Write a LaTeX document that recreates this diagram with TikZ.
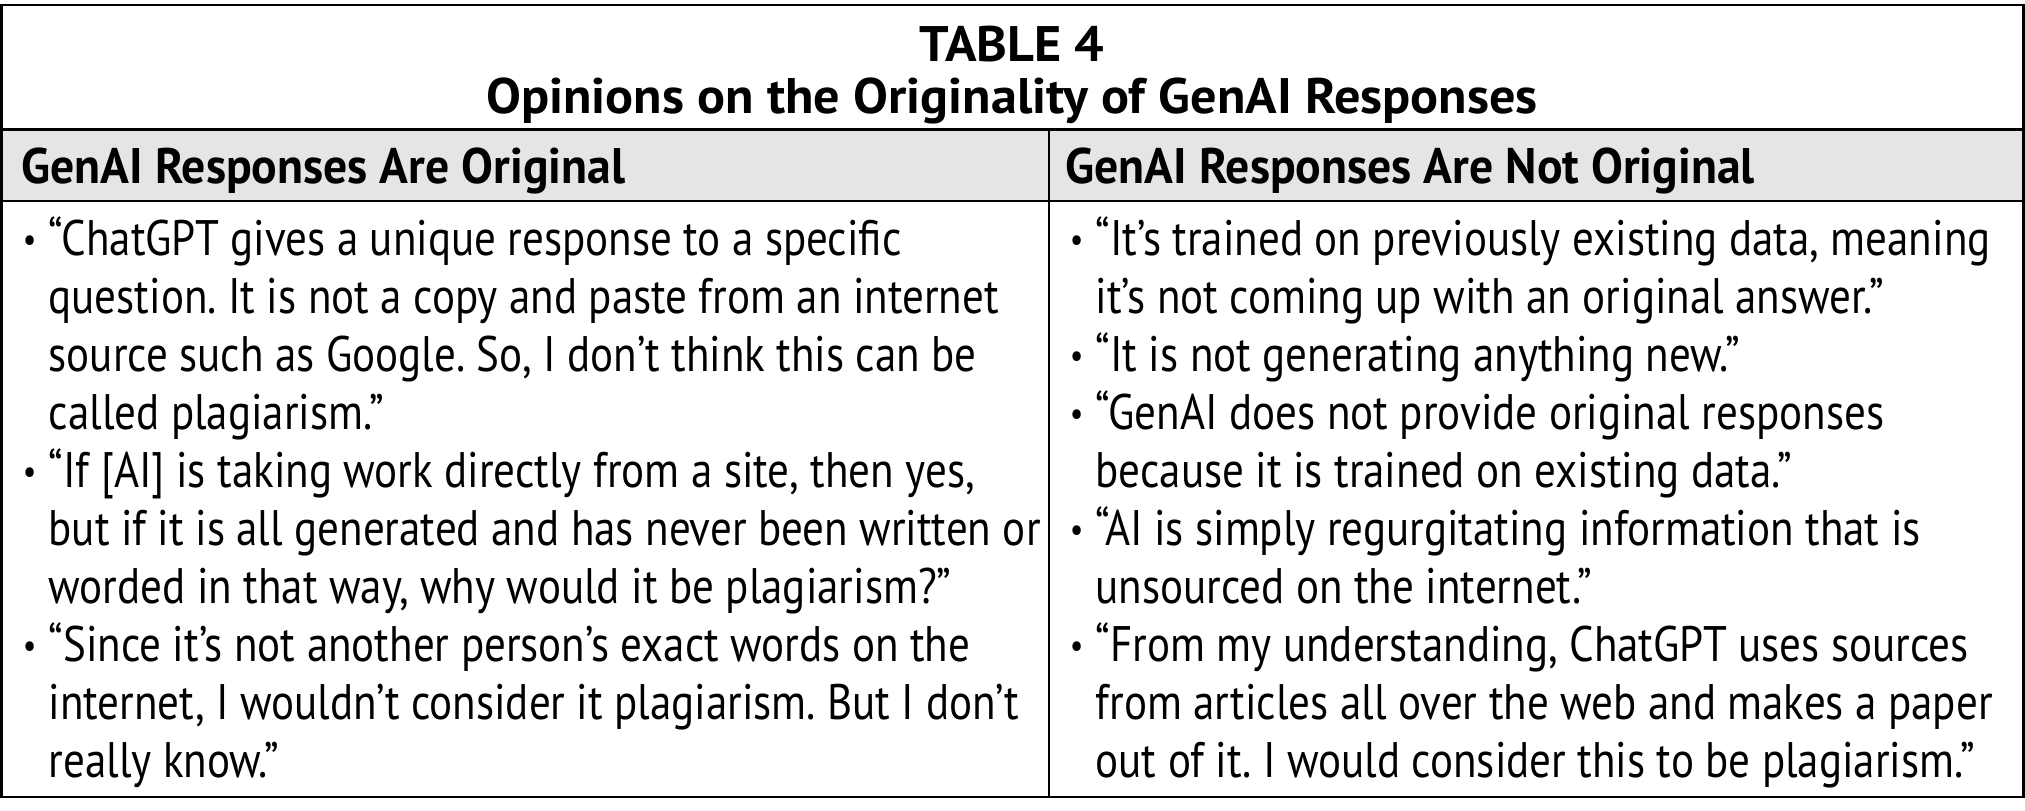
\documentclass[tikz,border=0pt]{standalone}
\usepackage{fontspec}
\setmainfont{PT Sans}
\newfontfamily\quotefont{PT Sans}[FakeStretch=0.862]
\newfontfamily\headfont{PT Sans}[FakeStretch=0.955]
\newfontfamily\titlefont{PT Sans}[FakeStretch=1.045]
\newcommand\bul{\llap{\makebox[0.38cm][c]{\raisebox{0.15ex}{\scalebox{0.7}{\textbullet}}}}}
\frenchspacing
\begin{document}
\begin{tikzpicture}[
    cell/.style={anchor=base west,inner sep=0pt,font=\fontsize{14.2pt}{16.5pt}\quotefont},
    headtxt/.style={anchor=base west,inner sep=0pt,font=\fontsize{14.2pt}{16.5pt}\headfont\bfseries},
    titletxt/.style={anchor=base,inner sep=0pt,font=\fontsize{14.2pt}{16.5pt}\titlefont\bfseries},
    rule/.style={line width=0.85pt}]
    
        \useasboundingbox (0,0) rectangle (20.25,-8.11);
        \fill[black!10] (0.015,-1.295) rectangle (20.23,-2.01);
        \draw[rule] (0.015,-0.05) rectangle (20.23,-7.97);
        \draw[rule] (0.015,-1.295) -- (20.23,-1.295);
        \draw[rule] (0.015,-2.01) -- (20.23,-2.01);
        \draw[rule] (10.49,-1.295) -- (10.49,-7.97);
        
        \node[titletxt] (tab) at (10.12,-0.61) {TABLE 4};
        \node[titletxt] (cap) at (10.12,-1.14) {Opinions on the Originality of GenAI Responses};
        \node[headtxt] (hleft) at (0.21,-1.83) {GenAI Responses Are Original};
        \node[headtxt] (hright) at (10.65,-1.83) {GenAI Responses Are Not Original};
        
        \foreach \t [count=\i] in {
            {\bul “ChatGPT gives a unique response to a specific},
            {question. It is not a copy and paste from an internet},
            {source such as Google. So, I don’t think this can be},
            {called plagiarism.”},
            {\bul “If [AI] is taking work directly from a site, then yes,},
            {but if it is all generated and has never been written or},
            {worded in that way, why would it be plagiarism?”},
            {\bul “Since it’s not another person’s exact words on the},
            {internet, I wouldn’t consider it plagiarism. But I don’t},
            {really know.”}}
            \node[cell] (l\i) at (0.48,-2.55-0.581*\i+0.581) {\t};
        
        \foreach \t [count=\i] in {
            {\bul “It’s trained on previously existing data, meaning},
            {it’s not coming up with an original answer.”},
            {\bul “It is not generating anything new.”},
            {\bul “GenAI does not provide original responses},
            {because it is trained on existing data.”},
            {\bul “AI is simply regurgitating information that is},
            {unsourced on the internet.”},
            {\bul “From my understanding, ChatGPT uses sources},
            {from articles all over the web and makes a paper},
            {out of it. I would consider this to be plagiarism.”}}
            \node[cell] (r\i) at (10.95,-2.55-0.581*\i+0.581) {\t};
        
        \end{tikzpicture}
\end{document}
